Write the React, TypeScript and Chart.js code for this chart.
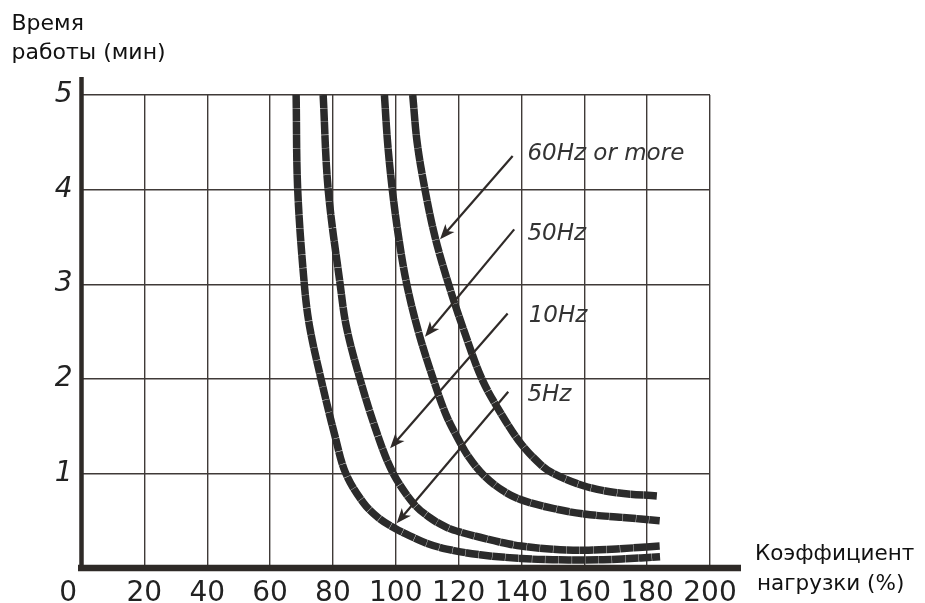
import { useEffect, useRef } from "react";
import { Chart, registerables } from "chart.js";

Chart.register(...registerables);

// ---- data ----
const xTickValues = [0, 20, 40, 60, 80, 100, 120, 140, 160, 180, 200];
const yTickValues = [0, 1, 2, 3, 4, 5];

const hz5X = [68.3, 68.8, 70.9, 72.6, 76.2, 80.7, 84.1, 89.7, 94.5, 99.7, 104.5, 110, 116.2, 126.8, 139.9, 150, 159.9, 172, 184.1];
const hz5Y = [5.0, 4.0, 3.0, 2.55, 2.0, 1.39, 1.0, 0.69, 0.53, 0.42, 0.34, 0.26, 0.2, 0.14, 0.1, 0.088, 0.085, 0.095, 0.12];

const hz10X = [76.9, 78.5, 82.3, 84.3, 88.6, 94.4, 99.2, 105.6, 110.5, 116.2, 121, 126.8, 133, 139.9, 150, 159.9, 170.3, 184.1];
const hz10Y = [5.0, 4.0, 3.0, 2.55, 2.0, 1.39, 1.0, 0.684, 0.54, 0.43, 0.375, 0.325, 0.275, 0.232, 0.198, 0.187, 0.202, 0.232];

const hz50X = [96.4, 97.4, 98.9, 100.9, 103.5, 107.2, 111.9, 116.0, 119.6, 123.1, 128, 134, 140, 150, 160, 172, 184];
const hz50Y = [5.0, 4.5, 4.0, 3.5, 3.0, 2.5, 2.0, 1.62, 1.38, 1.18, 0.98, 0.82, 0.72, 0.63, 0.57, 0.535, 0.5];

const hz60X = [105.4, 106.8, 109.3, 112.5, 116.8, 121.8, 127.4, 133, 139.5, 145.9, 150.1, 160, 170.3, 183.2];
const hz60Y = [5.0, 4.5, 4.0, 3.5, 3.0, 2.5, 2.0, 1.66, 1.33, 1.1, 1.0, 0.867, 0.796, 0.761];

const seriesNames = ["5Hz", "10Hz", "50Hz", "60Hz or more"];

// annotation arrows (data units)
const arrowStartX = [137.2, 137.7, 135.6, 135.8];
const arrowStartY = [4.355, 3.58, 2.69, 1.864];
const arrowEndX = [114.1, 109.3, 98.2, 100.3];
const arrowEndY = [3.475, 2.445, 1.265, 0.472];
const noteLabels = ["60Hz or more", "50Hz", "10Hz", "5Hz"];
const noteX = [141.9, 141.9, 142.3, 141.9];
const noteY = [4.313, 3.467, 2.604, 1.768];

const yTitleLines = ["Время", "работы (мин)"];
const xTitleLines = ["Коэффициент", "нагрузки (%)"];

const FONT = "'DejaVu Sans', 'Liberation Sans', Arial, sans-serif";
const CURVE = "#2b2b2b";
const INK = "#2e2a27";

function pts(xs: number[], ys: number[]) {
  return xs.map((x, i) => ({ x, y: ys[i] }));
}

function drawArrow(ctx: CanvasRenderingContext2D, x1: number, y1: number, x2: number, y2: number) {
  const ang = Math.atan2(y2 - y1, x2 - x1);
  const head = 15;
  const half = 6;
  const c = Math.cos(ang), s = Math.sin(ang);
  const bx = x2 - head * c, by = y2 - head * s;
  ctx.beginPath();
  ctx.moveTo(x1, y1);
  ctx.lineTo(x2 - 8 * c, y2 - 8 * s);
  ctx.stroke();
  ctx.beginPath();
  ctx.moveTo(x2, y2);
  ctx.lineTo(bx + half * s, by - half * c);
  ctx.lineTo(x2 - 11 * c, y2 - 11 * s);
  ctx.lineTo(bx - half * s, by + half * c);
  ctx.closePath();
  ctx.fill();
}

const overlayPlugin = {
  id: "overlay",
  afterDraw(chart: any) {
    const { ctx, chartArea, scales } = chart;
    const xs = scales.x, ys = scales.y;
    const x0 = xs.getPixelForValue(0);
    const y0 = ys.getPixelForValue(0);
    const yTop = ys.getPixelForValue(5);
    const xRight = xs.getPixelForValue(200);
    ctx.save();
    // thick axes
    ctx.strokeStyle = INK;
    ctx.lineCap = "butt";
    ctx.lineWidth = 4.5;
    ctx.beginPath();
    ctx.moveTo(x0, y0 + 3);
    ctx.lineTo(x0, yTop - 18);
    ctx.stroke();
    ctx.lineWidth = 6.5;
    ctx.beginPath();
    ctx.moveTo(x0 - 3.5, y0);
    ctx.lineTo(xRight + 31, y0);
    ctx.stroke();

    // arrows
    ctx.strokeStyle = "#2f2a28";
    ctx.fillStyle = "#2f2a28";
    ctx.lineWidth = 2.2;
    for (let i = 0; i < arrowStartX.length; i++) {
      drawArrow(
        ctx,
        xs.getPixelForValue(arrowStartX[i]),
        ys.getPixelForValue(arrowStartY[i]),
        xs.getPixelForValue(arrowEndX[i]),
        ys.getPixelForValue(arrowEndY[i])
      );
    }
    // notes
    ctx.fillStyle = "#333";
    ctx.font = `italic 23px ${FONT}`;
    ctx.textAlign = "left";
    ctx.textBaseline = "alphabetic";
    for (let i = 0; i < noteLabels.length; i++) {
      ctx.fillText(noteLabels[i], xs.getPixelForValue(noteX[i]), ys.getPixelForValue(noteY[i]));
    }
    // axis titles
    ctx.fillStyle = "#111";
    ctx.font = `22px ${FONT}`;
    ctx.fillText(yTitleLines[0], chartArea.left - 70, chartArea.top - 65);
    ctx.fillText(yTitleLines[1], chartArea.left - 70, chartArea.top - 36);
    ctx.font = `21.5px ${FONT}`;
    ctx.fillText(xTitleLines[0], chartArea.right + 45, chartArea.bottom - 8);
    ctx.fillText(xTitleLines[1], chartArea.right + 47, chartArea.bottom + 22);
    ctx.restore();
  },
};

export default function App() {
  const ref = useRef<HTMLCanvasElement>(null);
  useEffect(() => {
    document.body.style.margin = "0";
    const canvas = ref.current!;
    const datasets = [
      [hz5X, hz5Y],
      [hz10X, hz10Y],
      [hz50X, hz50Y],
      [hz60X, hz60Y],
    ].map(([xs, ys], i) => ({
      label: seriesNames[i],
      data: pts(xs, ys),
      borderColor: CURVE,
      backgroundColor: CURVE,
      borderWidth: 7.5,
      borderCapStyle: "butt" as const,
      borderJoinStyle: "round" as const,
      borderDash: [13, 0.35],
      pointRadius: 0,
      tension: 0.35,
      fill: false,
    }));
    const chart = new Chart(canvas, {
      type: "line",
      data: { datasets },
      plugins: [overlayPlugin],
      options: {
        animation: false,
        responsive: true,
        maintainAspectRatio: false,
        layout: { padding: { top: 95, right: 215, left: 0, bottom: 0 } },
        plugins: { legend: { display: false }, tooltip: { enabled: false } },
        scales: {
          x: {
            type: "linear",
            min: 0,
            max: 200,
            afterBuildTicks: (scale: any) => {
              scale.ticks = xTickValues.map((v) => ({ value: v }));
            },
            afterFit: (scale: any) => {
              scale.height = 35;
            },
            ticks: {
              color: "#222",
              font: { family: FONT, size: 28 },
              padding: 9,
              maxRotation: 0,
              autoSkip: false,
              callback: (v: any) => (v === 0 ? "0   " : String(v)),
            },
            grid: { color: "#403a38", lineWidth: 1.4, drawTicks: false },
            border: { display: false },
          },
          y: {
            type: "linear",
            min: 0,
            max: 5,
            afterBuildTicks: (scale: any) => {
              scale.ticks = yTickValues.map((v) => ({ value: v }));
            },
            afterFit: (scale: any) => {
              scale.width = 81.5;
            },
            ticks: {
              color: "#222",
              font: { family: FONT, size: 28, style: "italic" },
              padding: 9,
              callback: (v: any) => (v === 0 ? "" : String(v)),
            },
            grid: { color: "#403a38", lineWidth: 1.4, drawTicks: false },
            border: { display: false },
          },
        },
      },
    });
    return () => chart.destroy();
  }, []);
  return (
    <div style={{ position: "fixed", left: 0, top: 0, width: 925, height: 603, background: "#fff" }}>
      <canvas ref={ref} />
    </div>
  );
}
